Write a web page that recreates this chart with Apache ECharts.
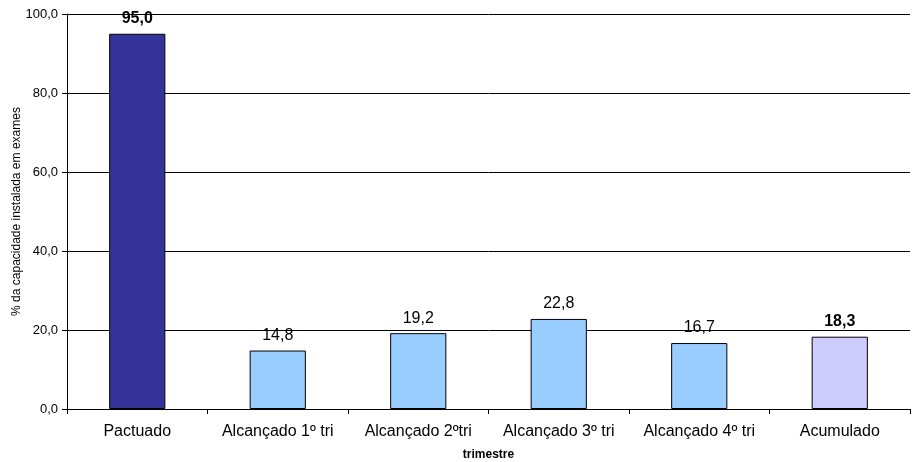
<!DOCTYPE html>
<html>
<head>
<meta charset="utf-8">
<script src="https://cdn.jsdelivr.net/npm/echarts@6/dist/echarts.min.js"></script>
<style>
  html, body { margin: 0; padding: 0; background: #fff; }
  #chart { width: 913px; height: 462px; }
</style>
</head>
<body>
<div id="chart"></div>
<script>
// Categories along the x axis
const categories = ['Pactuado', 'Alcançado 1º tri', 'Alcançado 2ºtri', 'Alcançado 3º tri', 'Alcançado 4º tri', 'Acumulado'];
// % of installed capacity used in exams
const values = [95.0, 14.8, 19.2, 22.8, 16.7, 18.3];
// Fill colour per bar
const barColors = ['#333399', '#99CCFF', '#99CCFF', '#99CCFF', '#99CCFF', '#CCCCFF'];
// Bars whose value label is bold
const boldLabels = [true, false, false, false, false, true];

const fontFamily = 'Liberation Sans, Arial, sans-serif';

const chart = echarts.init(document.getElementById('chart'), null, { renderer: 'canvas' });

const fmt = v => v.toFixed(1).replace('.', ',');

chart.setOption({
  animation: false,
  backgroundColor: '#ffffff',
  grid: { left: 67, right: 3, top: 14, bottom: 53, containLabel: false, outerBoundsMode: 'none' },
  xAxis: {
    type: 'category',
    data: categories,
    name: 'trimestre',
    nameLocation: 'middle',
    nameGap: 40,
    nameMoveOverlap: false,
    nameTextStyle: { fontFamily, fontSize: 12, fontWeight: 'bold', color: '#000' },
    axisLine: { lineStyle: { color: '#000', width: 1 } },
    axisTick: { show: true, alignWithLabel: false, length: 5, lineStyle: { color: '#000' } },
    axisLabel: { fontFamily, fontSize: 16, color: '#000', margin: 15, interval: 0 },
    splitLine: { show: false }
  },
  yAxis: {
    type: 'value',
    min: 0,
    max: 100,
    interval: 20,
    name: '% da capacidade instalada em exames',
    nameLocation: 'middle',
    nameGap: 44,
    nameMoveOverlap: false,
    nameRotate: 90,
    nameTextStyle: { fontFamily, fontSize: 12, color: '#000' },
    axisLine: { show: true, lineStyle: { color: '#000', width: 1 } },
    axisTick: { show: true, length: 5, lineStyle: { color: '#000' } },
    axisLabel: { fontFamily, fontSize: 13, color: '#000', margin: 9, formatter: v => fmt(v) },
    splitLine: { show: true, lineStyle: { color: '#000', width: 1 } }
  },
  series: [{
    type: 'bar',
    barWidth: '40%',
    data: values.map((v, i) => ({
      value: v,
      itemStyle: { color: barColors[i], borderColor: '#000', borderWidth: 1 },
      label: { fontWeight: boldLabels[i] ? 'bold' : 'normal' }
    })),
    label: {
      show: true,
      position: 'top',
      distance: 7,
      fontFamily,
      fontSize: 16,
      color: '#000',
      formatter: p => fmt(p.value)
    }
  }]
});
</script>
</body>
</html>
